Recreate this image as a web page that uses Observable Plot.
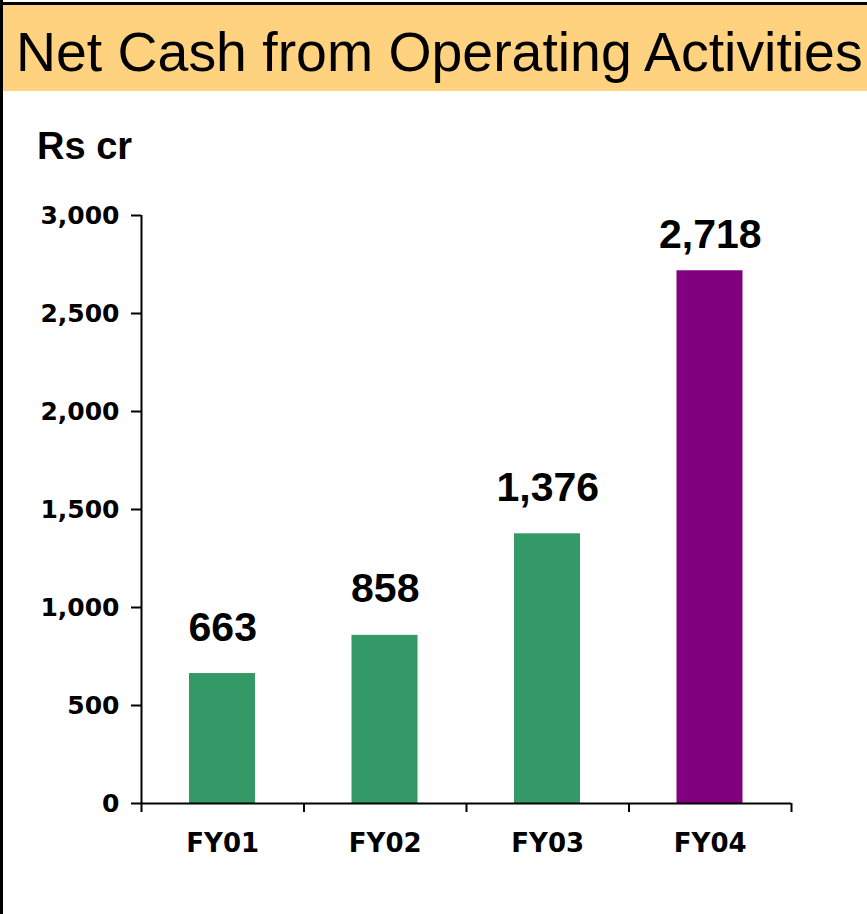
<!DOCTYPE html>
<html><head><meta charset="utf-8">
<script src="https://cdn.jsdelivr.net/npm/d3@7"></script>
<script src="https://cdn.jsdelivr.net/npm/@observablehq/plot@0.6"></script>
<style>
html,body{margin:0;padding:0;background:#fff;}
#page{position:relative;width:867px;height:914px;overflow:hidden;background:#fff;}
#leftBorder{position:absolute;left:0;top:0;width:3px;height:914px;background:#000;}
#topBorder{position:absolute;left:0;top:2px;width:867px;height:3px;background:#000;}
#band{position:absolute;left:3px;top:5px;width:864px;height:86px;background:#FFD280;}
#title{position:absolute;left:16px;top:25px;font-family:"Liberation Sans",Arial,sans-serif;font-size:55.4px;line-height:55px;color:#000;white-space:nowrap;}
#unit{position:absolute;left:37px;top:127px;font-family:"Liberation Sans",Arial,sans-serif;font-weight:bold;font-size:38px;line-height:38px;color:#000;white-space:nowrap;}
#chart{position:absolute;left:0;top:100px;}
</style></head>
<body>
<div id="page">
  <div id="band"></div>
  <div id="topBorder"></div>
  <div id="leftBorder"></div>
  <div id="title">Net Cash from Operating Activities</div>
  <div id="unit">Rs cr</div>
  <div id="chart"></div>
</div>
<script>
const categories = ["FY01", "FY02", "FY03", "FY04"];
const values = [663, 858, 1376, 2718];
const yTicks = [0, 500, 1000, 1500, 2000, 2500, 3000];

const data = categories.map((c, i) => ({category: c, value: values[i], i}));
const fmt = d3.format(",");
const n = categories.length;
const yMax = yTicks[yTicks.length - 1];
// like the source spreadsheet, a value label is kept inside the plot area
const labelRoom = 0.112 * yMax;

const chart = Plot.plot({
  width: 867, height: 814,
  marginTop: 115, marginBottom: 111, marginLeft: 141, marginRight: 76,
  x: {type: "linear", domain: [0, n], axis: null, label: null},
  y: {domain: [0, yMax], axis: null, label: null},
  style: {fontFamily: "DejaVu Sans", color: "#000", background: "transparent"},
  marks: [
    Plot.rectY(data, {
      x1: "i", x2: d => d.i + 1, y1: 0, y2: "value",
      insetLeft: 48, insetRight: 48.5,
      fill: d => d.i === n - 1 ? "#800080" : "#339966"
    }),
    Plot.text(data, {
      x: d => d.i + 0.5, y: d => Math.min(d.value, yMax - labelRoom),
      text: d => fmt(d.value),
      lineAnchor: "bottom", dy: -33,
      fontSize: 41, fontWeight: "bold",
      fontFamily: "Liberation Sans, Arial, sans-serif", fill: "#000"
    }),
    Plot.axisY({ticks: yTicks, tickFormat: fmt, tickSize: 10, tickPadding: 12,
      fontSize: 25, fontWeight: "bold", strokeWidth: 2, stroke: "#000", label: null}),
    Plot.ruleX([0], {y1: 0, y2: yMax, strokeWidth: 2, stroke: "#000"}),
    Plot.ruleY([0], {x1: 0, x2: n, strokeWidth: 2, stroke: "#000"}),
    Plot.axisX({ticks: d3.range(n + 1), tickFormat: () => "", tickSize: 9,
      strokeWidth: 2, stroke: "#000", label: null}),
    Plot.axisX({ticks: categories.map((c, i) => i + 0.5),
      tickFormat: v => categories[Math.floor(v)], tickSize: 0, tickPadding: 30,
      fontSize: 26, fontWeight: "bold", label: null})
  ]
});
document.getElementById("chart").appendChild(chart);
</script>
</body></html>
